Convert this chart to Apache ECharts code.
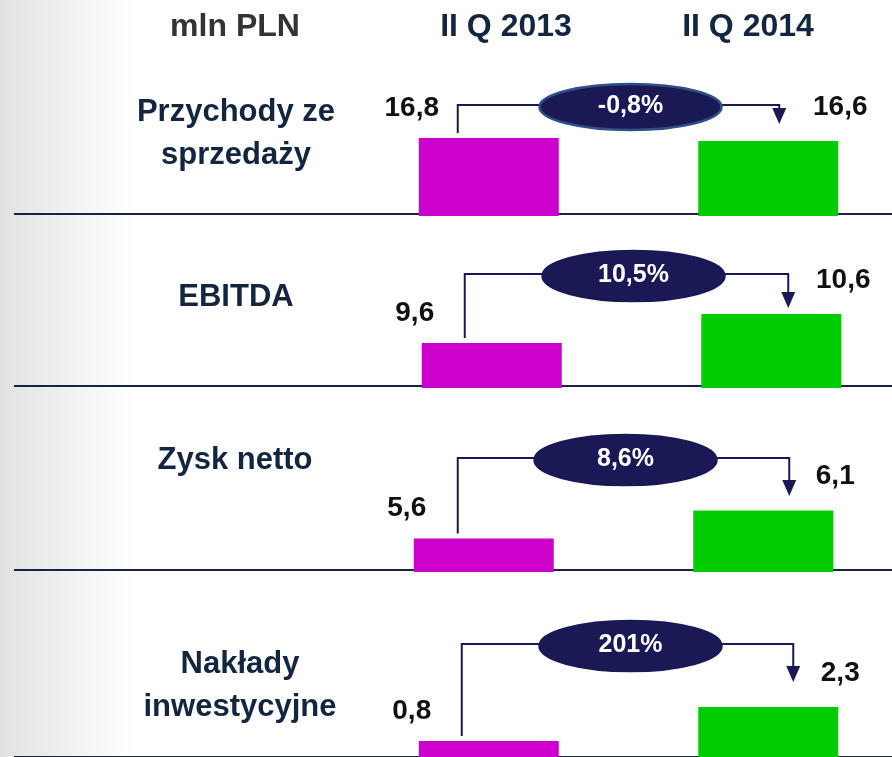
<!DOCTYPE html>
<html>
<head>
<meta charset="utf-8">
<script src="https://cdn.jsdelivr.net/npm/echarts@6/dist/echarts.min.js"></script>
<style>
  html, body { margin: 0; padding: 0; background: #fff; }
  #chart { width: 892px; height: 757px; }
</style>
</head>
<body>
<div id="chart"></div>
<script>
const unitLabel = 'mln PLN';
const periods = ['II Q 2013', 'II Q 2014'];
const categories = ['Przychody ze\nsprzedaży', 'EBITDA', 'Zysk netto', 'Nakłady\ninwestycyjne'];
const values2013 = [16.8, 9.6, 5.6, 0.8];
const values2014 = [16.6, 10.6, 6.1, 2.3];
const changes = ['-0,8%', '10,5%', '8,6%', '201%'];

// layout of each panel (own scale per panel, like the slide)
const panels = [
  { top: 105, bottom: 216, left: 349, min: 11.6, max: 19.0, labelX: 236, labelY: 134, inDx: -31, outDx: 11, arrow: 19 },
  { top: 274, bottom: 388, left: 352, min: 8.05, max: 11.98, labelX: 236, labelY: 297, inDx: -27, outDx: 17, arrow: 34 },
  { top: 458, bottom: 572, left: 344, min: 5.0, max: 7.04, labelX: 235, labelY: 460, inDx: -26, outDx: 26, arrow: 38 },
  { top: 644, bottom: 759, left: 349, min: 0, max: 5.09, labelX: 240, labelY: 686, inDx: -27, outDx: 25, arrow: 38 }
];

const FONT = "'Liberation Sans', Arial, sans-serif";
const NAVY = '#1b1856';
const fmt = v => v.toFixed(1).replace('.', ',');

let myChart = echarts.init(document.getElementById('chart'));

let grids = [], xAxes = [], yAxes = [], series = [], graphics = [];

panels.forEach((p, i) => {
  grids.push({ left: p.left, top: p.top, width: 559, height: p.bottom - p.top, outerBoundsMode: 'none' });
  xAxes.push({ type: 'category', gridIndex: i, data: periods, show: false });
  yAxes.push({ type: 'value', gridIndex: i, min: p.min, max: p.max, startValue: p.min, show: false });

  // baseline + connector arrow + ellipse with the change
  series.push({
    type: 'custom',
    xAxisIndex: i,
    yAxisIndex: i,
    z: 1,
    silent: true,
    data: [[0, values2013[i], values2014[i]]],
    renderItem(params, api) {
      const cs = params.coordSys;
      const a = api.coord([0, api.value(1)]);
      const b = api.coord([1, api.value(2)]);
      const connY = cs.y;
      const x1 = a[0] + p.inDx;
      const x2 = b[0] + p.outDx;
      const tip = connY + p.arrow;
      const baseY = cs.y + cs.height - 2;
      const cx = (a[0] + b[0]) / 2 + 2;
      return {
        type: 'group',
        children: [
          { type: 'line', shape: { x1: 14, y1: baseY, x2: 892, y2: baseY },
            style: { stroke: '#14253f', lineWidth: 2 } },
          { type: 'polyline', shape: { points: [[x1, a[1] - 5], [x1, connY], [x2, connY], [x2, tip - 12]] },
            style: { stroke: NAVY, lineWidth: 2, fill: null } },
          { type: 'polygon', shape: { points: [[x2 - 7, tip - 16], [x2 + 7, tip - 16], [x2, tip]] },
            style: { fill: NAVY } },
          { type: 'ellipse', shape: { cx: cx, cy: connY + 2, rx: 91, ry: i === 0 ? 23 : 25 },
            style: { fill: NAVY, stroke: i === 0 ? '#2f4f86' : NAVY, lineWidth: 2.5 } },
          { type: 'text', x: cx, y: connY + 1,
            style: { text: changes[i], fill: '#fff', font: "bold 25px " + FONT,
                     align: 'center', verticalAlign: 'middle' } }
        ]
      };
    }
  });

  series.push({
    type: 'bar',
    xAxisIndex: i,
    yAxisIndex: i,
    barWidth: 140,
    data: [
      { value: values2013[i], itemStyle: { color: '#cc00cc' },
        label: { position: [-7, -30] } },
      { value: values2014[i], itemStyle: { color: '#00cc00' },
        label: { position: [142, -34] } }
    ],
    label: {
      show: true,
      formatter: d => fmt(d.value),
      align: 'center',
      verticalAlign: 'middle',
      color: '#111',
      fontSize: 28,
      fontWeight: 'bold',
      fontFamily: FONT
    }
  });

  graphics.push({
    type: 'text', x: p.labelX, y: p.labelY,
    style: { text: categories[i], fill: '#14253f', font: 'bold 31px ' + FONT,
             lineHeight: 43, align: 'center', verticalAlign: 'middle' }
  });
});

// header row
[[235, unitLabel, '#333333'], [506, periods[0], '#14253f'], [748, periods[1], '#14253f']].forEach(h => {
  graphics.push({
    type: 'text', x: h[0], y: 27,
    style: { text: h[1], fill: h[2], font: 'bold 32px ' + FONT,
             align: 'center', verticalAlign: 'middle' }
  });
});

myChart.setOption({
  animation: false,
  backgroundColor: {
    type: 'linear', x: 0, y: 0, x2: 1, y2: 0,
    colorStops: [
      { offset: 0, color: '#e2e2e2' },
      { offset: 0.15, color: '#ffffff' },
      { offset: 1, color: '#ffffff' }
    ]
  },
  grid: grids,
  xAxis: xAxes,
  yAxis: yAxes,
  series: series,
  graphic: graphics
});
</script>
</body>
</html>
